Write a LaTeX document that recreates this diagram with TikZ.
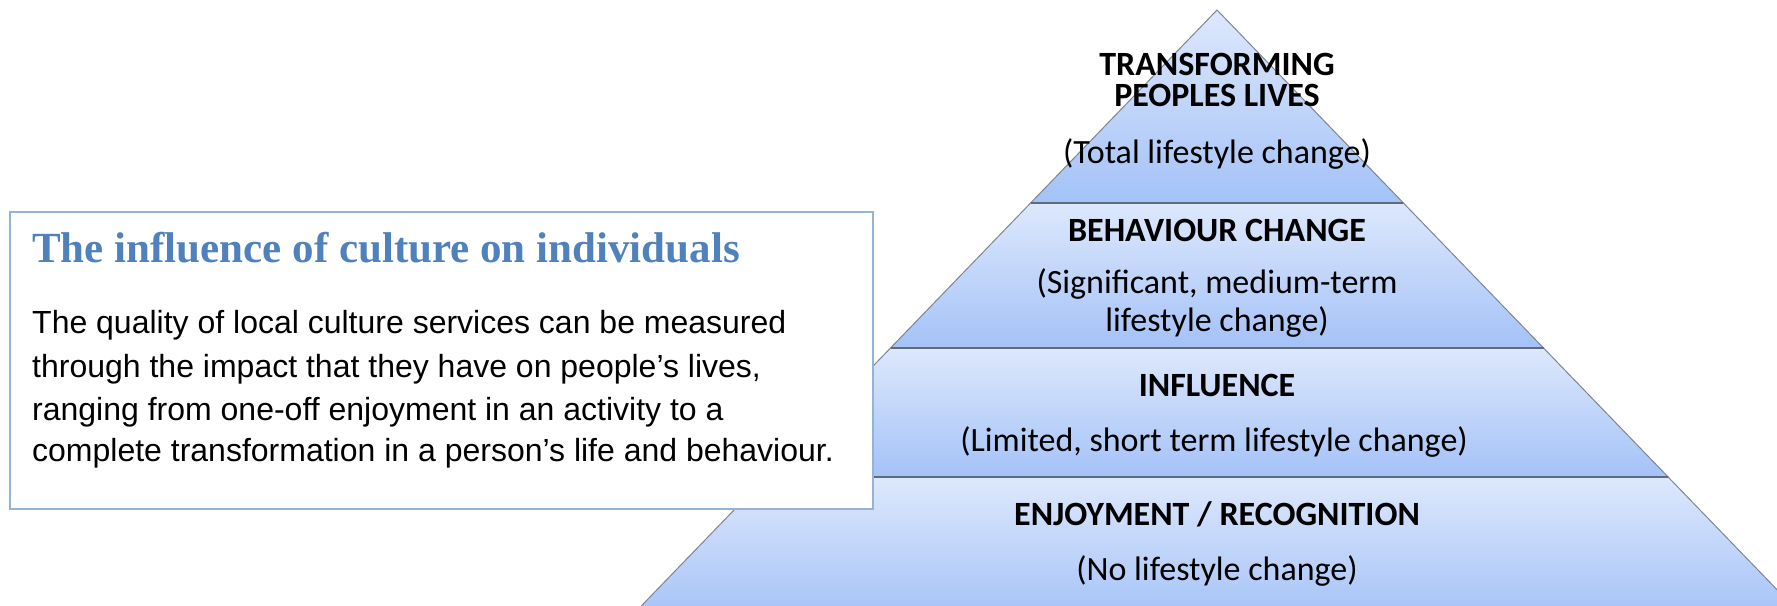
\documentclass[tikz,border=0pt]{standalone}
\usepackage{fontspec}
\setmainfont{Carlito}
\newfontfamily\bodyfont{Liberation Sans}
\newfontfamily\titlefont{Liberation Serif}
\definecolor{bandtop}{HTML}{DDE8FC}
\definecolor{bandbot}{HTML}{A4C2F7}
\definecolor{edgecol}{HTML}{7F8591}
\definecolor{sepcol}{HTML}{5E6B7A}
\definecolor{boxline}{HTML}{95B3D7}
\definecolor{titleblue}{HTML}{4F81BD}
\begin{document}
\begin{tikzpicture}[x=1pt,y=-1pt,
  band/.style={top color=bandtop,bottom color=bandbot,draw=edgecol,line width=1pt},
  sepline/.style={draw=sepcol,line width=2pt},
  head/.style={anchor=base,inner sep=0pt,font=\bfseries\fontsize{34pt}{34pt}\selectfont},
  sub/.style={anchor=base,inner sep=0pt,font=\fontsize{34pt}{34pt}\selectfont},
  bodyline/.style={anchor=base west,inner sep=0pt,font=\bodyfont\fontsize{32pt}{32pt}\selectfont},
  infobox/.style={draw=boxline,line width=2pt,fill=white}]
\useasboundingbox (0,0) rectangle (1777,605);
\fill[white] (0,0) rectangle (1777,605);
\begin{scope}
\clip (0,0) rectangle (1777,605);
% pyramid bands
\draw[band] (1217,10) -- (1403.4,203) -- (1030.6,203) -- cycle;
\draw[band] (1030.6,203) -- (1403.4,203) -- (1543.5,348) -- (890.5,348) -- cycle;
\draw[band] (890.5,348) -- (1543.5,348) -- (1668.1,477) -- (765.9,477) -- cycle;
\draw[band] (765.9,477) -- (1668.1,477) -- (1806.3,620) -- (627.7,620) -- cycle;
\end{scope}
\coordinate (s1l) at (1030.6,203); \coordinate (s1r) at (1403.4,203);
\coordinate (s2l) at (890.5,348);  \coordinate (s2r) at (1543.5,348);
\coordinate (s3l) at (765.9,477);  \coordinate (s3r) at (1668.1,477);
\draw[sepline] (s1l) -- (s1r);
\draw[sepline] (s2l) -- (s2r);
\draw[sepline] (s3l) -- (s3r);
% pyramid texts
\node[head] (t1a) at (1217,75) {TRANSFORMING};
\node[head] (t1b) at (1217,106) {PEOPLES LIVES};
\node[sub]  (t1c) at (1217,163) {(Total lifestyle change)};
\node[head] (t2a) at (1217,241) {BEHAVIOUR CHANGE};
\node[sub]  (t2b) at (1217,293) {(Significant, medium-term};
\node[sub]  (t2c) at (1217,331) {lifestyle change)};
\node[head] (t3a) at (1217,396) {INFLUENCE};
\node[sub]  (t3b) at (1214,451) {(Limited, short term lifestyle change)};
\node[head] (t4a) at (1217,525) {ENJOYMENT / RECOGNITION};
\node[sub]  (t4b) at (1217,580) {(No lifestyle change)};
% info box
\draw[infobox] (10,212) rectangle (873,509);
\node[anchor=base west,inner sep=0pt,text=titleblue,font=\titlefont\bfseries\fontsize{43pt}{43pt}\selectfont] (title) at (32,262) {The influence of culture on individuals};
\node[bodyline] (b1) at (32,333) {The quality of local culture services can be measured};
\node[bodyline] (b2) at (32,377) {through the impact that they have on people’s lives,};
\node[bodyline] (b3) at (32,420) {ranging from one-off enjoyment in an activity to a};
\node[bodyline] (b4) at (32,461) {complete transformation in a person’s life and behaviour.};
\end{tikzpicture}
\end{document}
